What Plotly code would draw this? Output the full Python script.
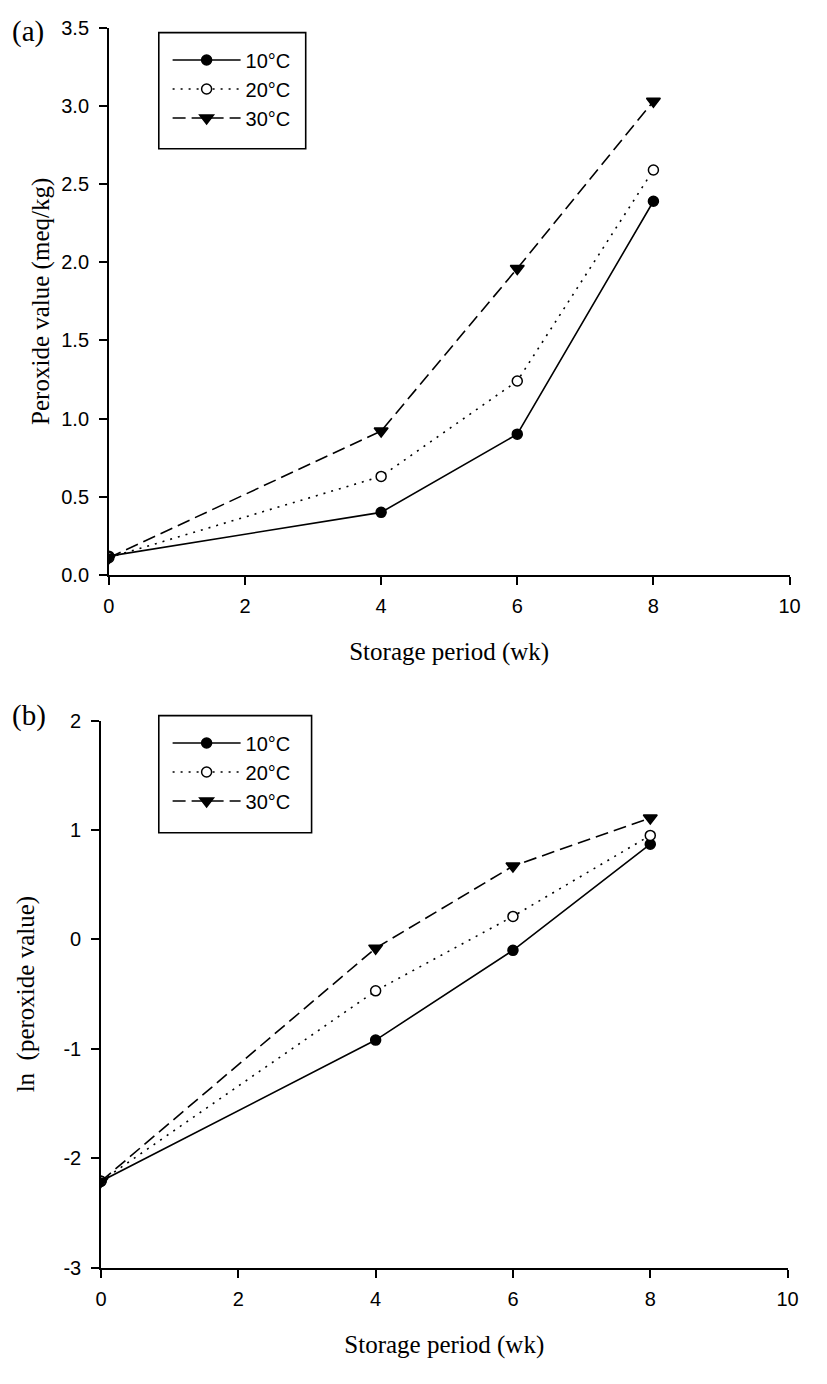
import plotly.graph_objects as go

weeks = [0, 4, 6, 8]
series_names = ["10°C", "20°C", "30°C"]

pv_10 = [0.12, 0.40, 0.90, 2.39]
pv_20 = [0.11, 0.63, 1.24, 2.59]
pv_30 = [0.11, 0.92, 1.96, 3.03]

ln_10 = [-2.21, -0.92, -0.10, 0.87]
ln_20 = [-2.21, -0.47, 0.21, 0.95]
ln_30 = [-2.21, -0.08, 0.67, 1.11]

x_ticks = [0, 2, 4, 6, 8, 10]
top_y_ticks = [0.0, 0.5, 1.0, 1.5, 2.0, 2.5, 3.0, 3.5]
top_y_labels = ["0.0", "0.5", "1.0", "1.5", "2.0", "2.5", "3.0", "3.5"]
bot_y_ticks = [-3, -2, -1, 0, 1, 2]
bot_y_labels = ["-3", "-2", "-1", "0", "1", "2"]

W, H = 827, 1384
styles = [
    dict(dash="solid", symbol="circle", fill="black", size=10),
    dict(dash="2px,6px", symbol="circle", fill="white", size=10),
    dict(dash="13px,6px", symbol="triangle-down", fill="black", size=12),
]

fig = go.Figure()


def add_series(xs, ys, name, st, xa, ya, leg):
    fig.add_trace(go.Scatter(
        x=xs, y=ys, name=name, mode="lines+markers",
        line=dict(color="black", width=1.6, dash=st["dash"]),
        marker=dict(symbol=st["symbol"], size=st["size"], color=st["fill"],
                    line=dict(color="black", width=1.5)),
        xaxis=xa, yaxis=ya, legend=leg))


for name, ys, st in zip(series_names, [pv_10, pv_20, pv_30], styles):
    add_series(weeks, ys, name, st, "x", "y", "legend")
for name, ys, st in zip(series_names, [ln_10, ln_20, ln_30], styles):
    add_series(weeks, ys, name, st, "x2", "y2", "legend2")

tickfont = dict(family="Liberation Sans, Arial", size=20, color="black")
titlefont = dict(family="Liberation Serif, Times New Roman", size=25, color="black")
legfont = dict(family="Liberation Sans, Arial", size=20, color="black")

common_axis = dict(showline=True, linecolor="black", linewidth=1.6, ticks="outside",
                   ticklen=8, tickwidth=1.6, tickcolor="black", showgrid=False,
                   zeroline=False, tickfont=tickfont, mirror=False)


def px_x(v):
    return v / W


def px_y(v):
    return 1 - v / H


legend_boxes = [(156, 22, 306, 140), (156, 716, 312, 835)]

fig.update_layout(
    width=W, height=H, margin=dict(l=0, r=0, t=0, b=0),
    paper_bgcolor="white", plot_bgcolor="white",
    xaxis=dict(domain=[px_x(105), px_x(800)], range=[0, 10], tickvals=x_ticks,
               anchor="y", title=dict(text="Storage period (wk)", font=titlefont, standoff=27),
               ticklabelstandoff=4, **common_axis),
    yaxis=dict(domain=[px_y(573), px_y(17)], range=[0, 3.5], tickvals=top_y_ticks,
               ticktext=top_y_labels, anchor="x",
               title=dict(text="Peroxide value (meq/kg)", font=titlefont, standoff=4),
               ticklabelstandoff=6, **common_axis),
    xaxis2=dict(domain=[px_x(97), px_x(798)], range=[0, 10], tickvals=x_ticks,
                anchor="y2", title=dict(text="Storage period (wk)", font=titlefont, standoff=27),
                ticklabelstandoff=4, **common_axis),
    yaxis2=dict(domain=[px_y(1277), px_y(721)], range=[-3, 2], tickvals=bot_y_ticks,
                ticktext=bot_y_labels, anchor="x2",
                title=dict(text="ln  (peroxide value)", font=titlefont, standoff=22),
                ticklabelstandoff=6, **common_axis),
    legend=dict(x=px_x(165), y=px_y(30), xanchor="left", yanchor="top",
                borderwidth=0, bgcolor="rgba(0,0,0,0)",
                font=legfont, itemwidth=68, tracegroupgap=0),
    legend2=dict(x=px_x(165), y=px_y(724), xanchor="left", yanchor="top",
                 borderwidth=0, bgcolor="rgba(0,0,0,0)",
                 font=legfont, itemwidth=68, tracegroupgap=0),
    shapes=[
        dict(type="rect", xref="paper", yref="paper",
             x0=px_x(b[0]), y0=px_y(b[3]), x1=px_x(b[2]), y1=px_y(b[1]),
             line=dict(color="black", width=1.6), fillcolor="white", layer="above")
        for b in legend_boxes
    ],
    annotations=[
        dict(text="(a)", x=px_x(4), y=px_y(21), xref="paper", yref="paper",
             xanchor="left", yanchor="middle", showarrow=False,
             font=dict(family="Liberation Serif, Times New Roman", size=29, color="black")),
        dict(text="(b)", x=px_x(4), y=px_y(716), xref="paper", yref="paper",
             xanchor="left", yanchor="middle", showarrow=False,
             font=dict(family="Liberation Serif, Times New Roman", size=29, color="black")),
    ],
    showlegend=True,
)

fig.write_html("out.html", config={"displayModeBar": False},
               post_script="document.body.style.margin='0px';")
